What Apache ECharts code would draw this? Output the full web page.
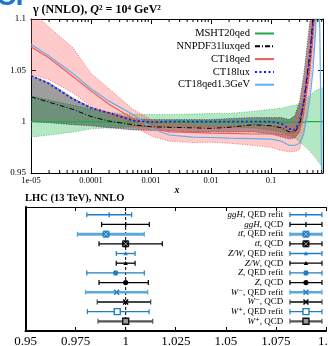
<!DOCTYPE html>
<html><head><meta charset="utf-8">
<script src="https://cdn.jsdelivr.net/npm/echarts@6/dist/echarts.min.js"></script>
<style>html,body{margin:0;padding:0;background:#fff}#c{width:328px;height:346px}</style>
</head><body><div id="c"></div><script>
// ---------- top panel data (ratio to reference, photon PDF) ----------
const xGrid = [1e-5, 2e-5, 5e-5, 1e-4, 2e-4, 5e-4, 1e-3, 2e-3, 5e-3, 0.01, 0.02, 0.05, 0.1, 0.15, 0.2, 0.25, 0.3, 0.35, 0.4, 0.45, 0.5, 0.55, 0.6, 0.65, 0.7, 0.735];
const msht20qed   = [1.000,1.000,1.000,1.000,0.9995,0.9995,0.9995,0.9995,0.9995,0.9995,0.9995,0.9995,0.9995,0.9995,0.9995,0.9995,0.9995,0.9995,1.000,1.000,1.000,1.000,1.000,1.000,1.000,1.000];
const msht20qedHi = [1.025,1.021,1.016,1.012,1.009,1.007,1.007,1.007,1.0075,1.008,1.008,1.010,1.012,1.013,1.015,1.016,1.017,1.020,1.023,1.026,1.028,1.030,1.031,1.032,1.033,1.033];
const msht20qedLo = [0.985,0.987,0.990,0.993,0.994,0.995,0.995,0.995,0.995,0.995,0.995,0.994,0.992,0.990,0.987,0.984,0.980,0.977,0.974,0.971,0.968,0.965,0.962,0.959,0.956,0.953];
const nnpdf31     = [1.0242,1.019,1.012,1.005,1.0005,0.997,0.995,0.9945,0.994,0.9935,0.9945,0.997,0.996,0.994,0.990,0.990,0.997,1.018,1.045,1.070,1.100,1.130,1.160,1.190,1.220,1.240];
const nnpdf31Hi   = [1.045,1.038,1.023,1.014,1.009,1.003,1.002,1.002,1.002,1.002,1.003,1.004,1.004,1.004,1.002,1.006,1.020,1.045,1.075,1.100,1.130,1.160,1.190,1.220,1.250,1.270];
const nnpdf31Lo   = [1.000,0.999,0.997,0.996,0.994,0.992,0.9915,0.991,0.990,0.990,0.990,0.990,0.988,0.985,0.983,0.984,0.990,1.006,1.030,1.050,1.080,1.110,1.140,1.170,1.200,1.220];
const ct18qed     = [1.073,1.062,1.044,1.030,1.017,1.003,0.995,0.990,0.9895,0.9888,0.9885,0.988,0.988,0.9875,0.9866,0.988,0.992,1.012,1.034,1.058,1.085,1.120,1.160,1.200,1.240,1.270];
const ct18qedHi   = [1.108,1.092,1.072,1.047,1.032,1.012,1.002,0.998,0.997,0.996,0.996,0.996,0.996,0.996,0.997,1.003,1.013,1.035,1.060,1.090,1.120,1.150,1.190,1.230,1.270,1.300];
const ct18qedLo   = [1.046,1.041,1.028,1.015,1.006,0.996,0.986,0.981,0.9797,0.980,0.979,0.977,0.975,0.972,0.9706,0.971,0.973,0.990,1.010,1.035,1.060,1.090,1.130,1.170,1.210,1.240];
const ct18lux     = [1.0448,1.037,1.022,1.0134,1.0085,1.001,0.9995,1.000,1.000,1.000,1.000,1.000,1.000,0.998,0.993,0.992,1.000,1.018,1.042,1.065,1.095,1.130,1.170,1.210,1.250,1.280];
const ct18qed13   = [1.0755,1.064,1.047,1.032,1.020,1.007,0.994,0.987,0.985,0.9846,0.984,0.9835,0.983,0.981,0.977,0.977,0.979,0.988,1.005,1.025,1.050,1.085,1.140,1.090,0.940,0.900];
const topLegend = ['MSHT20qed','NNPDF31luxqed','CT18qed','CT18lux','CT18qed1.3GeV'];
const xTickExps = [-5,-4,-3,-2,-1];
const xTickLabels = ['1e-05','0.0001','0.001','0.01','0.1'];
const minorTicksX = [2e-5,3e-5,4e-5,5e-5,6e-5,7e-5,8e-5,9e-5,2e-4,3e-4,4e-4,5e-4,6e-4,7e-4,8e-4,9e-4,2e-3,3e-3,4e-3,5e-3,6e-3,7e-3,8e-3,9e-3,0.02,0.03,0.04,0.05,0.06,0.07,0.08,0.09,0.2,0.3,0.4,0.5,0.6,0.7];

// ---------- bottom panel data (LHC 13 TeV cross-section ratios) ----------
const processLabels = ['{i|ggH}, QED refit','{i|ggH}, QCD','{i|tt̄}, QED refit','{i|tt̄}, QCD','{i|Z/W}, QED refit','{i|Z/W}, QCD','{i|Z}, QED refit','{i|Z}, QCD','{i|W}⁻, QED refit','{i|W}⁻, QCD','{i|W}⁺, QED refit','{i|W}⁺, QCD'];
const xsCenter = [0.9918, 1.0000, 0.9902, 1.0000, 1.0000, 1.0000, 0.9950, 1.0000, 0.9955, 1.0000, 0.9958, 1.0000];
const xsLow    = [0.9806, 0.9880, 0.9759, 0.9867, 0.9953, 0.9953, 0.9806, 0.9867, 0.9800, 0.9858, 0.9809, 0.9862];
const xsHigh   = [1.0030, 1.0118, 1.0093, 1.0183, 1.0047, 1.0047, 1.0093, 1.0113, 1.0110, 1.0125, 1.0117, 1.0135];

// ---------- styles ----------
const SERIF = "'Liberation Serif','DejaVu Serif',serif";
const BLUE = '#1f7fc4', LBLUE = '#5aa8de';
const rowStyle = [
  {c:BLUE, m:BLUE, w:1.3, k:'plus'}, {c:'#000', m:'#000', w:1.2, k:'plus'},
  {c:LBLUE, m:BLUE, w:3, k:'boxx'}, {c:'#000', m:'#000', w:1.3, k:'boxx'},
  {c:BLUE, m:BLUE, w:1.3, k:'tri'}, {c:'#000', m:'#000', w:1.3, k:'tri'},
  {c:BLUE, m:BLUE, w:1.3, k:'circle'}, {c:'#000', m:'#000', w:1.3, k:'circle'},
  {c:LBLUE, m:BLUE, w:2.5, k:'x'}, {c:'#444', m:'#000', w:2, k:'x'},
  {c:BLUE, m:BLUE, w:1.3, k:'sq'}, {c:'#555', m:'#111', w:2.2, k:'sqd'}
];

function markerShapes(k, cx, cy, color) {
  const s = [];
  if (k === 'plus') s.push({type:'line', shape:{x1:cx,y1:cy-2.5,x2:cx,y2:cy+2.5}, style:{stroke:color, lineWidth:1.3}});
  else if (k === 'boxx') {
    s.push({type:'rect', shape:{x:cx-3,y:cy-3,width:6,height:6}, style:{fill:color, stroke:color, lineWidth:1}});
    s.push({type:'line', shape:{x1:cx-2.5,y1:cy-2.5,x2:cx+2.5,y2:cy+2.5}, style:{stroke:'#bcd', lineWidth:0.8}});
    s.push({type:'line', shape:{x1:cx-2.5,y1:cy+2.5,x2:cx+2.5,y2:cy-2.5}, style:{stroke:'#bcd', lineWidth:0.8}});
  } else if (k === 'tri') s.push({type:'polygon', shape:{points:[[cx,cy-2.2],[cx-2.2,cy+1.8],[cx+2.2,cy+1.8]]}, style:{fill:color}});
  else if (k === 'circle') s.push({type:'circle', shape:{cx:cx,cy:cy,r:2.6}, style:{fill:color}});
  else if (k === 'x') {
    s.push({type:'line', shape:{x1:cx-2.5,y1:cy-2.5,x2:cx+2.5,y2:cy+2.5}, style:{stroke:color, lineWidth:1.5}});
    s.push({type:'line', shape:{x1:cx-2.5,y1:cy+2.5,x2:cx+2.5,y2:cy-2.5}, style:{stroke:color, lineWidth:1.5}});
  } else if (k === 'sq') s.push({type:'rect', shape:{x:cx-3,y:cy-3,width:6,height:6}, style:{fill:'#fff', stroke:color, lineWidth:1.4}});
  else if (k === 'sqd') s.push({type:'rect', shape:{x:cx-3,y:cy-3,width:6,height:6}, style:{fill:'#999', stroke:color, lineWidth:1.4}});
  return s;
}

function errBar(st, l, h, c) {
  const y = c[1];
  const out = [
    {type:'line', shape:{x1:l[0],y1:y,x2:h[0],y2:y}, style:{stroke:st.c, lineWidth:st.w}},
    {type:'line', shape:{x1:l[0],y1:y-2.5,x2:l[0],y2:y+2.5}, style:{stroke:st.c, lineWidth:1.2}},
    {type:'line', shape:{x1:h[0],y1:y-2.5,x2:h[0],y2:y+2.5}, style:{stroke:st.c, lineWidth:1.2}}
  ];
  return out.concat(markerShapes(st.k, c[0], y, st.m));
}

function band(lo, hi, fill, edge) {
  return {type:'custom', xAxisIndex:0, yAxisIndex:0, clip:true, silent:true, z:1,
    data:[[xGrid[0], 1]],
    renderItem: function(params, api) {
      const up = xGrid.map((x,i)=>api.coord([x, hi[i]]));
      const dn = xGrid.map((x,i)=>api.coord([x, lo[i]]));
      return {type:'group', children:[
        {type:'polygon', shape:{points: up.concat(dn.slice().reverse())}, style:{fill:fill}},
        {type:'polyline', shape:{points: up}, style:{stroke:edge, lineWidth:1, lineDash:[1,1.5], fill:null}},
        {type:'polyline', shape:{points: dn}, style:{stroke:edge, lineWidth:1, lineDash:[1,1.5], fill:null}}
      ]};
    }};
}
function lineS(name, vals, color, width, type) {
  return {type:'line', name:name, xAxisIndex:0, yAxisIndex:0, data: xGrid.map((x,i)=>[x, vals[i]]),
    symbol:'none', showSymbol:false, smooth:false, z:3, silent:true,
    lineStyle:{color:color, width:width, type:type}, itemStyle:{color:color, opacity:0}};
}

const chart = echarts.init(document.getElementById('c'));
const axLine = {show:true, onZero:false, lineStyle:{color:'#000', width:1}};
chart.setOption({
  animation:false,
  backgroundColor:'#fff',
  grid:[
    {left:31, top:19, width:292, height:154, outerBoundsMode:'none', containLabel:false},
    {left:25.5, top:207, width:300.5, height:124, outerBoundsMode:'none', containLabel:false}
  ],
  legend:{data:topLegend, orient:'vertical', align:'right', right:53, top:28, itemWidth:19, itemHeight:10, itemGap:1.8,
    padding:0, selectedMode:false, itemStyle:{opacity:0}, textStyle:{fontFamily:SERIF, fontSize:10.5, color:'#000'}},
  xAxis:[
    {gridIndex:0, type:'log', logBase:10, min:1e-5, max:0.735, position:'bottom',
     axisLine:axLine, axisTick:{inside:true, length:5, lineStyle:{color:'#000'}}, splitLine:{show:false},
     axisLabel:{color:'#000', fontFamily:SERIF, fontSize:8.5, margin:3, showMaxLabel:false,
       formatter:function(v){const e=Math.log10(v); const r=Math.round(e); if(Math.abs(e-r)>1e-6) return ''; const j=xTickExps.indexOf(r); return j<0?'':xTickLabels[j];}},
     name:'x', nameLocation:'middle', nameGap:10, nameTextStyle:{fontFamily:SERIF, fontStyle:'italic', fontWeight:'bold', fontSize:10, color:'#000'}},
    {gridIndex:0, type:'log', logBase:10, min:1e-5, max:0.735, position:'top',
     axisLine:axLine, axisTick:{inside:true, length:5, lineStyle:{color:'#000'}}, axisLabel:{show:false}, splitLine:{show:false}},
    {gridIndex:1, type:'value', min:0.95, max:1.1, interval:0.025, position:'bottom',
     axisLine:{show:true, onZero:false, lineStyle:{color:'#000', width:2}}, axisTick:{inside:true, length:4, lineStyle:{color:'#000'}},
     axisLabel:{color:'#000', fontFamily:SERIF, fontSize:13, margin:4}, splitLine:{show:false}},
    {gridIndex:1, type:'value', min:0.95, max:1.1, interval:0.025, position:'top',
     axisLine:axLine, axisTick:{inside:true, length:4, lineStyle:{color:'#000'}}, axisLabel:{show:false}, splitLine:{show:false}}
  ],
  yAxis:[
    {gridIndex:0, type:'value', min:0.95, max:1.1, interval:0.05, position:'left',
     axisLine:axLine, axisTick:{inside:true, length:5, lineStyle:{color:'#000'}}, splitLine:{show:false},
     axisLabel:{color:'#000', fontFamily:SERIF, fontSize:9, margin:5}},
    {gridIndex:0, type:'value', min:0.95, max:1.1, interval:0.05, position:'right',
     axisLine:axLine, axisTick:{inside:true, length:5, lineStyle:{color:'#000'}}, splitLine:{show:false}, axisLabel:{show:false}},
    {gridIndex:1, type:'value', inverse:true, min:-0.8, max:12, position:'left',
     axisLine:{show:true, onZero:false, lineStyle:{color:'#000', width:2}}, axisTick:{show:false}, axisLabel:{show:false}, splitLine:{show:false}}
  ],
  graphic:[
    {type:'text', left:-4, top:-17, style:{text:'C', font:"bold 28px 'Liberation Sans', sans-serif", fill:'#1b76d0'}},
    {type:'text', left:11, top:-17, style:{text:'T', font:"bold 28px 'Liberation Sans', sans-serif", fill:'#1b76d0'}},
    {type:'text', left:33, top:4, style:{text:'{b|γ (NNLO), }{bi|Q}{b|² = 10⁴ GeV²}',
      rich:{b:{fontFamily:SERIF, fontWeight:'bold', fontSize:12, fill:'#000'}, bi:{fontFamily:SERIF, fontWeight:'bold', fontStyle:'italic', fontSize:12, fill:'#000'}}}},
    {type:'text', left:25, top:193, style:{text:'LHC (13 TeV), NNLO', fontFamily:SERIF, fontWeight:'bold', fontSize:10.5, fill:'#000'}}
  ],
  series:[
    band(msht20qedLo, msht20qedHi, 'rgba(40,190,90,0.35)', 'rgba(30,150,60,0.6)'),
    band(nnpdf31Lo, nnpdf31Hi, 'rgba(0,0,0,0.38)', 'rgba(40,40,40,0.7)'),
    band(ct18qedLo, ct18qedHi, 'rgba(255,80,80,0.3)', 'rgba(240,90,90,0.8)'),
    lineS('MSHT20qed', msht20qed, '#22aa44', 1.2, 'solid'),
    lineS('CT18qed', ct18qed, '#f05a5a', 1.2, 'solid'),
    lineS('CT18qed1.3GeV', ct18qed13, '#5fb0e8', 1.2, 'solid'),
    lineS('NNPDF31luxqed', nnpdf31, '#000', 1, [5,2,1,2]),
    lineS('CT18lux', ct18lux, '#1a1aee', 1.8, [2,2.5]),
    {type:'custom', xAxisIndex:0, yAxisIndex:0, silent:true, clip:false, z:5,
     data: minorTicksX.map(x=>[x, 1]),
     renderItem:function(params, api){
       const p = api.coord([api.value(0), 1]); const cs = params.coordSys;
       return {type:'group', children:[
         {type:'line', shape:{x1:p[0],y1:cs.y,x2:p[0],y2:cs.y+3}, style:{stroke:'#000', lineWidth:1}},
         {type:'line', shape:{x1:p[0],y1:cs.y+cs.height,x2:p[0],y2:cs.y+cs.height-3}, style:{stroke:'#000', lineWidth:1}}
       ]};
     }},
    {type:'custom', xAxisIndex:2, yAxisIndex:2, silent:true, clip:false, z:2,
     data:[[1, 0]],
     renderItem:function(params, api){
       const p = api.coord([api.value(0), 0]); const cs = params.coordSys;
       return {type:'line', shape:{x1:p[0],y1:cs.y,x2:p[0],y2:cs.y+cs.height}, style:{stroke:'#000', lineWidth:1, lineDash:[3,2]}};
     }},
    {type:'custom', xAxisIndex:2, yAxisIndex:2, silent:true, clip:false, z:4,
     data: xsCenter.map((c,i)=>[c, i, xsLow[i], xsHigh[i]]),
     encode:{x:[0,2,3], y:1},
     renderItem:function(params, api){
       const i = params.dataIndex;
       const c = api.coord([api.value(0), api.value(1)]);
       const l = api.coord([api.value(2), api.value(1)]);
       const h = api.coord([api.value(3), api.value(1)]);
       return {type:'group', children: errBar(rowStyle[i], l, h, c)};
     }},
    {type:'custom', xAxisIndex:2, yAxisIndex:2, silent:true, clip:false, z:4,
     data: processLabels.map((t,i)=>[1.09, i]),
     renderItem:function(params, api){
       const i = params.dataIndex; const row = api.value(1);
       const t = api.coord([1.0787, row]);
       const l = api.coord([1.082, row]);
       const h = api.coord([1.098, row]);
       const c = api.coord([1.090, row]);
       const kids = errBar(rowStyle[i], l, h, c);
       kids.push({type:'text', x:t[0], y:t[1], style:{text:processLabels[i], fontFamily:SERIF, fontSize:9, fill:'#000', align:'right', verticalAlign:'middle',
         rich:{i:{fontFamily:SERIF, fontStyle:'italic', fontSize:9, fill:'#000'}}}});
       return {type:'group', children:kids};
     }}
  ]
});
</script></body></html>
